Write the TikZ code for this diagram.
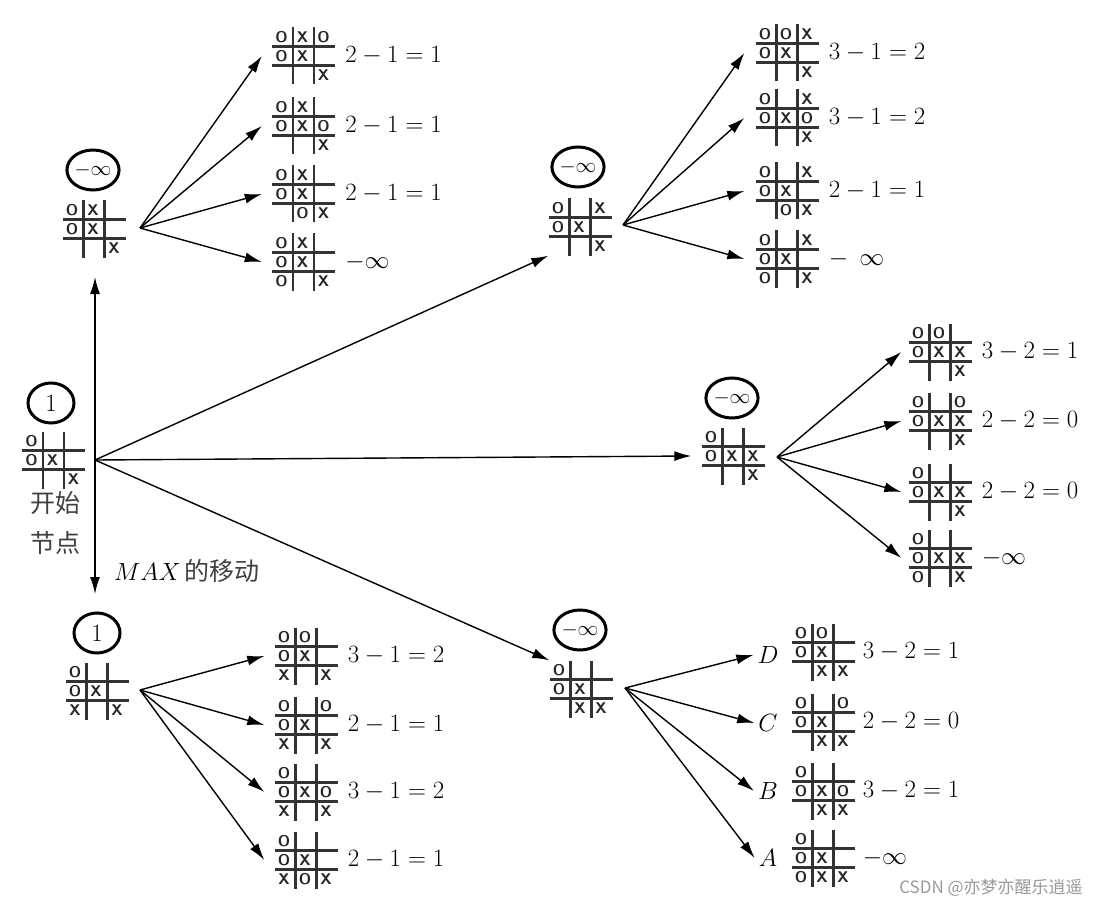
\documentclass[tikz,border=0pt]{standalone}
\usepackage{fontspec}
\newfontfamily\cjk{Noto Sans CJK SC}
\usetikzlibrary{arrows.meta,shapes.geometric}
\tikzset{
  bd/.style={inner sep=0pt, minimum width=63pt, minimum height=57pt},
  gl/.style={line width=2.2pt, black!80},
  cellt/.style={inner sep=0pt, font=\sffamily\bfseries\fontsize{15.5}{15.5}\selectfont, text=black!85},
  val/.style={ellipse, draw, line width=3pt, minimum width=46pt, minimum height=40pt, inner sep=0pt},
  lbl/.style={anchor=west, inner sep=0pt, font=\fontsize{23}{26}\selectfont},
  arr/.style={line width=1.4pt, -{Latex[length=17pt,width=10pt]}},
  cn/.style={inner sep=0pt, font=\cjk\fontsize{25}{28}\selectfont, text=black!75},
  wm/.style={inner sep=0pt, font=\cjk\fontsize{17}{19}\selectfont, text=black!40}
}
\newcommand\board[5]{%
  \node[bd] (#1) at #2 {};
  \begin{scope}[shift={#2}]
    \draw[gl] (-31.5,-9.5) -- (31.5,-9.5) (-31.5,9.5) -- (31.5,9.5)
              (-10.5,-28.5) -- (-10.5,28.5) (10.5,-28.5) -- (10.5,28.5);
    \foreach \c [count=\i] in {#3} \node[cellt] (#1-a\i) at ({21*(\i-2)-1},-18.5) {\c};
    \foreach \c [count=\i] in {#4} \node[cellt] (#1-b\i) at ({21*(\i-2)-1},0.5) {\c};
    \foreach \c [count=\i] in {#5} \node[cellt] (#1-c\i) at ({21*(\i-2)-1},19.5) {\c};
  \end{scope}}
\begin{document}
\begin{tikzpicture}[x=1pt,y=-1pt]
\useasboundingbox (0,0) rectangle (1111,912);

% ---- root ----
\node[val, font=\fontsize{25}{25}\selectfont] (c0) at (51,403) {$1$};
\board{r}{(53.5,460)}{O,{},{}}{O,X,{}}{{},{},X}
\node[cn] (t1) at (55,503) {开始};
\node[cn] (t2) at (55,543) {节点};
\node[anchor=west, inner sep=0pt] (t3) at (114,571) {\fontsize{25}{27}\selectfont$MAX$\,{\cjk\fontsize{25}{28}\selectfont\color{black!75} 的移动}};
\coordinate (rf) at (95,460);
\coordinate (upTip) at (95,277);
\coordinate (downTip) at (95,594);

% ---- top-left subtree ----
\node[val, font=\fontsize{21}{21}\selectfont] (c1) at (93,170) {$-\infty$};
\board{tl}{(94,229)}{O,X,{}}{O,X,{}}{{},{},X}
\coordinate (ftl) at (140,228);
\board{tla}{(303.5,56)}{O,X,O}{O,X,{}}{{},{},X}
\board{tlb}{(303.5,126)}{O,X,{}}{O,X,O}{{},{},X}
\board{tlc}{(303.5,194)}{O,X,{}}{O,X,{}}{{},O,X}
\board{tld}{(303.5,262)}{O,X,{}}{O,X,{}}{O,{},X}
\node[lbl] (ltla) at ([xshift=10pt]tla.east) {$2-1=1$};
\node[lbl] (ltlb) at ([xshift=10pt]tlb.east) {$2-1=1$};
\node[lbl] (ltlc) at ([xshift=10pt]tlc.east) {$2-1=1$};
\node[lbl] (ltld) at ([xshift=10pt]tld.east) {$-\infty$};

% ---- top-middle subtree ----
\node[val, font=\fontsize{21}{21}\selectfont] (c2) at (578,167) {$-\infty$};
\board{tm}{(580,227)}{O,{},X}{O,X,{}}{{},{},X}
\coordinate (ftm) at (623,225);
\board{tma}{(787,53)}{O,O,X}{O,X,{}}{{},{},X}
\board{tmb}{(787,118)}{O,{},X}{O,X,O}{{},{},X}
\board{tmc}{(787,191)}{O,{},X}{O,X,{}}{{},O,X}
\board{tmd}{(787,259)}{O,{},X}{O,X,{}}{O,{},X}
\node[lbl] (ltma) at ([xshift=10pt]tma.east) {$3-1=2$};
\node[lbl] (ltmb) at ([xshift=10pt]tmb.east) {$3-1=2$};
\node[lbl] (ltmc) at ([xshift=10pt]tmc.east) {$2-1=1$};
\node[lbl] (ltmd) at ([xshift=10pt]tmd.east) {$-\;\,\infty$};

% ---- right subtree ----
\node[val, font=\fontsize{21}{21}\selectfont] (c3) at (732,398) {$-\infty$};
\board{rm}{(733,456)}{O,{},{}}{O,X,X}{{},{},X}
\coordinate (frm) at (777,457);
\board{rma}{(940,352)}{O,O,{}}{O,X,X}{{},{},X}
\board{rmb}{(940,421)}{O,{},O}{O,X,X}{{},{},X}
\board{rmc}{(940,492)}{O,{},{}}{O,X,X}{{},{},X}
\board{rmd}{(940,558)}{O,{},{}}{O,X,X}{O,{},X}
\node[lbl] (lrma) at ([xshift=10pt]rma.east) {$3-2=1$};
\node[lbl] (lrmb) at ([xshift=10pt]rmb.east) {$2-2=0$};
\node[lbl] (lrmc) at ([xshift=10pt]rmc.east) {$2-2=0$};
\node[lbl] (lrmd) at ([xshift=10pt]rmd.east) {$-\infty$};

% ---- bottom-left subtree ----
\node[val, font=\fontsize{25}{25}\selectfont] (c4) at (97,633) {$1$};
\board{bl}{(97,691)}{O,{},{}}{O,X,{}}{X,{},X}
\coordinate (fbl) at (140,690);
\board{bla}{(306,656)}{O,O,{}}{O,X,{}}{X,{},X}
\board{blb}{(306,725)}{O,{},O}{O,X,{}}{X,{},X}
\board{blc}{(306,792)}{O,{},{}}{O,X,O}{X,{},X}
\board{bld}{(306,860)}{O,{},{}}{O,X,{}}{X,O,X}
\node[lbl] (lbla) at ([xshift=10pt]bla.east) {$3-1=2$};
\node[lbl] (lblb) at ([xshift=10pt]blb.east) {$2-1=1$};
\node[lbl] (lblc) at ([xshift=10pt]blc.east) {$3-1=2$};
\node[lbl] (lbld) at ([xshift=10pt]bld.east) {$2-1=1$};

% ---- bottom-middle subtree ----
\node[val, font=\fontsize{21}{21}\selectfont] (c5) at (580,630) {$-\infty$};
\board{bm}{(581,689)}{O,{},{}}{O,X,{}}{{},X,X}
\coordinate (fbm) at (625,688);
\board{bma}{(823,652)}{O,O,{}}{O,X,{}}{{},X,X}
\board{bmb}{(823,722)}{O,{},O}{O,X,{}}{{},X,X}
\board{bmc}{(823,791)}{O,{},{}}{O,X,O}{{},X,X}
\board{bmd}{(823,858)}{O,{},{}}{O,X,{}}{O,X,X}
\node[lbl, anchor=center] (D) at (768,655) {$D$};
\node[lbl, anchor=center] (C) at (768,723) {$C$};
\node[lbl, anchor=center] (B) at (768,791) {$B$};
\node[lbl, anchor=center] (A) at (768,858) {$A$};
\node[lbl] (lbma) at ([xshift=8pt]bma.east) {$3-2=1$};
\node[lbl] (lbmb) at ([xshift=8pt]bmb.east) {$2-2=0$};
\node[lbl] (lbmc) at ([xshift=8pt]bmc.east) {$3-2=1$};
\node[lbl] (lbmd) at ([xshift=8pt]bmd.east) {$-\infty$};

% ---- connectors ----
\draw[arr] (rf) -- (upTip);
\draw[arr] (rf) -- (downTip);
\draw[arr] (rf) -- (tm.south west);
\draw[arr] (rf) -- ([xshift=-10pt]rm.west);
\draw[arr] (rf) -- (bm.north west);
\foreach \n in {tla,tlb,tlc,tld} \draw[arr] (ftl) -- ([xshift=-10pt]\n.west);
\foreach \n in {tma,tmb,tmc,tmd} \draw[arr] (ftm) -- ([xshift=-11pt]\n.west);
\foreach \n in {rma,rmb,rmc,rmd} \draw[arr] (frm) -- ([xshift=-7pt]\n.west);
\foreach \n in {bla,blb,blc,bld} \draw[arr] (fbl) -- ([xshift=-10pt]\n.west);
\foreach \n in {D,C,B,A} \draw[arr] (fbm) -- ([xshift=-4pt]\n.west);

\node[wm] (w) at (991,888) {CSDN @亦梦亦醒乐逍遥};
\end{tikzpicture}
\end{document}
